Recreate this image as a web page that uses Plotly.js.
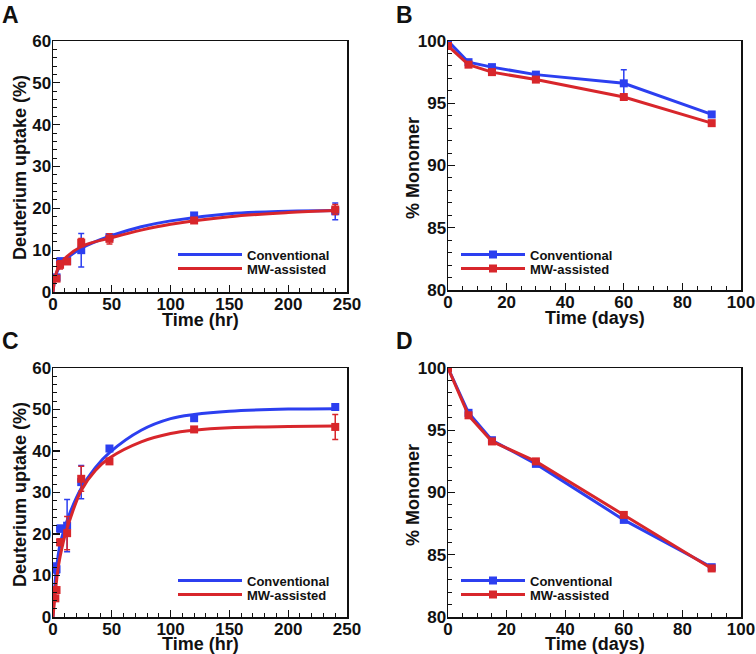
<!DOCTYPE html>
<html>
<head>
<meta charset="utf-8">
<script src="https://cdn.plot.ly/plotly-3.0.1.min.js"></script>
<style>
  html, body { margin: 0; padding: 0; background: #fff; }
  #chart { width: 756px; height: 654px; }
</style>
</head>
<body>
<div id="chart"></div>
<script>
// ---- data ----
const BLUE = "#2c3ff0";
const RED = "#d8262b";

// panel A: deuterium uptake, measured points (hr, %)
const aTime = [3, 6, 12, 24, 48, 120, 240];
const aConv = [3.5, 7.3, 7.4, 10.0, 13.1, 18.3, 19.3];
const aConvErr = [0.5, 0.8, 0.4, 4.0, 0.8, 0.6, 2.0];
const aMw = [3.2, 6.5, 7.3, 11.8, 12.7, 17.1, 19.7];
const aMwErr = [0.6, 1.0, 0.4, 1.0, 1.2, 0.4, 1.2];
// panel A: fitted curves
const aFitTime = [0, 2, 5, 10, 25, 50, 75, 100, 150, 200, 240];
const aFitConv = [0, 3.6, 5.8, 7.6, 10.6, 13.5, 15.6, 17.0, 18.7, 19.3, 19.5];
const aFitMw = [0, 3.8, 6.1, 8.0, 11.0, 13.0, 14.8, 16.2, 18.0, 19.0, 19.5];

// panel C
const cTime = [2, 3, 6, 12, 24, 48, 120, 240];
const cConv = [12.0, 11.5, 21.3, 22.0, 32.5, 40.6, 47.9, 50.6];
const cConvErr = [1.0, 1.0, 0.8, 6.3, 4.0, 0.6, 0.6, 0.6];
const cMw = [4.5, 6.5, 18.0, 20.2, 33.3, 37.5, 45.2, 45.8];
const cMwErr = [0.5, 0.6, 0.8, 4.0, 3.0, 0.5, 0.5, 3.0];
const cFitTime = [0, 2, 4, 6, 10, 15, 24, 36, 48, 75, 100, 120, 150, 200, 240];
const cFitConv = [0, 9, 14, 17.5, 21.5, 25.5, 31.0, 36.0, 39.6, 45.0, 47.8, 48.8, 49.6, 50.1, 50.2];
const cFitMw = [0, 6, 11, 14.5, 19.5, 24.0, 30.5, 35.3, 38.3, 42.2, 44.2, 45.0, 45.6, 45.9, 46.0];

// panel B / D: % monomer vs days
const days = [0, 7, 15, 30, 60, 90];
const bConv = [100, 98.3, 97.9, 97.3, 96.6, 94.1];
const bConvErr = [0, 0, 0, 0, 1.1, 0];
const bMw = [99.6, 98.1, 97.5, 96.9, 95.5, 93.4];
const dConv = [100, 96.4, 94.2, 92.3, 87.8, 84.0];
const dMw = [100, 96.2, 94.1, 92.5, 88.2, 83.9];

const seriesNames = ["Conventional", "MW-assisted"];
const panelLetters = ["A", "B", "C", "D"];
const xTitles = ["Time (hr)", "Time (days)", "Time (hr)", "Time (days)"];
const yTitles = ["Deuterium uptake (%)", "% Monomer", "Deuterium uptake (%)", "% Monomer"];

// ---- traces ----
const traces = [];

function errOpts(arr, col) {
  return { type: "data", array: arr, visible: true, color: col, thickness: 1.5, width: 3 };
}

// each legend entry sits in its own small legend so the rows can be packed tightly
function uptakePanel(xa, ya, n, t, conv, convErr, mw, mwErr, ft, fConv, fMw) {
  traces.push({ x: t, y: conv, xaxis: xa, yaxis: ya, mode: "markers", type: "scatter",
    marker: { symbol: "square", size: 8, color: BLUE }, error_y: errOpts(convErr, BLUE), showlegend: false });
  traces.push({ x: ft, y: fConv, xaxis: xa, yaxis: ya, mode: "lines", type: "scatter", name: seriesNames[0],
    line: { color: BLUE, width: 3, shape: "spline" }, legend: "legend" + (n * 2 + 1) });
  traces.push({ x: t, y: mw, xaxis: xa, yaxis: ya, mode: "markers", type: "scatter",
    marker: { symbol: "square", size: 8, color: RED }, error_y: errOpts(mwErr, RED), showlegend: false });
  traces.push({ x: ft, y: fMw, xaxis: xa, yaxis: ya, mode: "lines", type: "scatter", name: seriesNames[1],
    line: { color: RED, width: 3, shape: "spline" }, legend: "legend" + (n * 2 + 2) });
}

function monomerPanel(xa, ya, n, conv, convErr, mw) {
  traces.push({ x: days, y: conv, xaxis: xa, yaxis: ya, mode: "lines+markers", type: "scatter", name: seriesNames[0],
    line: { color: BLUE, width: 3 }, marker: { symbol: "square", size: 8, color: BLUE },
    error_y: convErr ? errOpts(convErr, BLUE) : undefined, legend: "legend" + (n * 2 + 1) });
  traces.push({ x: days, y: mw, xaxis: xa, yaxis: ya, mode: "lines+markers", type: "scatter", name: seriesNames[1],
    line: { color: RED, width: 3 }, marker: { symbol: "square", size: 8, color: RED },
    legend: "legend" + (n * 2 + 2) });
}

uptakePanel("x", "y", 0, aTime, aConv, aConvErr, aMw, aMwErr, aFitTime, aFitConv, aFitMw);
monomerPanel("x2", "y2", 1, bConv, bConvErr, bMw);
uptakePanel("x3", "y3", 2, cTime, cConv, cConvErr, cMw, cMwErr, cFitTime, cFitConv, cFitMw);
monomerPanel("x4", "y4", 3, dConv, null, dMw);
// plotly calls the first legend "legend", not "legend1"
traces.forEach(tr => { if (tr.legend === "legend1") tr.legend = "legend"; });

// ---- layout ----
const FONT = "Liberation Sans, Arial, Helvetica, sans-serif";
const tickFont = { family: FONT, size: 17, color: "#111", weight: "bold" };
const titleFont = { family: FONT, size: 18, color: "#111", weight: "bold" };

const W = 756, H = 654;
const colA = [53 / W, 347 / W];
const colB = [448 / W, 741 / W];
const py = (top, bot) => [1 - bot / H, 1 - top / H];

function axis(domain, anchor, range, dtick, minor, isX) {
  return {
    domain: domain, anchor: anchor, range: range, dtick: dtick,
    showgrid: false, zeroline: false, showline: true, linecolor: "#111", linewidth: 1.5, mirror: true,
    ticks: "inside", ticklen: 7, tickwidth: 1.3, tickcolor: "#111",
    minor: { ticks: "inside", ticklen: 4, tickwidth: 1, dtick: minor, tickcolor: "#111" },
    ticklabelstandoff: isX ? -4 : -3,
    tickfont: tickFont
  };
}

function legendAt(xpx, ypx) {
  return {
    x: xpx / W, y: 1 - ypx / H, xref: "paper", yref: "paper", xanchor: "left", yanchor: "top",
    bgcolor: "rgba(0,0,0,0)", borderwidth: 0, itemwidth: 64,
    font: { family: FONT, size: 13, color: "#111", weight: "bold" }
  };
}

const annotations = [];
// panel letters
panelLetters.forEach((L, i) => annotations.push({
  text: L, xref: "paper", yref: "paper",
  x: i % 2 === 0 ? 0.0 : 0.521, y: i < 2 ? 1.0 : 0.502,
  xanchor: "left", yanchor: "top", showarrow: false,
  font: { family: FONT, size: 23, color: "#111", weight: "bold" }
}));
// axis titles, placed close to the tick labels as in the figure
const xTitlePos = [[200, 320], [595, 318], [200, 644], [595, 644]];
const yTitlePos = [[20, 168], [413, 168], [20, 495], [413, 495]];
xTitles.forEach((t, i) => annotations.push({
  text: t, xref: "paper", yref: "paper",
  x: xTitlePos[i][0] / W, y: 1 - xTitlePos[i][1] / H,
  xanchor: "center", yanchor: "middle", showarrow: false, font: titleFont
}));
yTitles.forEach((t, i) => annotations.push({
  text: t, xref: "paper", yref: "paper", textangle: -90,
  x: yTitlePos[i][0] / W, y: 1 - yTitlePos[i][1] / H,
  xanchor: "center", yanchor: "middle", showarrow: false, font: titleFont
}));

const layout = {
  width: W, height: H,
  margin: { l: 0, r: 0, t: 0, b: 0 },
  paper_bgcolor: "#fff", plot_bgcolor: "#fff",
  showlegend: true,
  xaxis: axis(colA, "y", [0, 250], 50, 10, true),
  yaxis: axis(py(41, 292), "x", [0, 60], 10, 2, false),
  xaxis2: axis(colB, "y2", [0, 100], 20, 5, true),
  yaxis2: axis(py(41, 290), "x2", [80, 100], 5, 1, false),
  xaxis3: axis(colA, "y3", [0, 250], 50, 10, true),
  yaxis3: axis(py(368, 617), "x3", [0, 60], 10, 2, false),
  xaxis4: axis(colB, "y4", [0, 100], 20, 5, true),
  yaxis4: axis(py(368, 617), "x4", [80, 100], 5, 1, false),
  legend: legendAt(173, 239.5),
  legend2: legendAt(173, 253.5),
  legend3: legendAt(456, 239.5),
  legend4: legendAt(456, 253.5),
  legend5: legendAt(173, 565.5),
  legend6: legendAt(173, 579.5),
  legend7: legendAt(456, 565.5),
  legend8: legendAt(456, 579.5),
  annotations: annotations
};

Plotly.newPlot("chart", traces, layout, { staticPlot: true });
</script>
</body>
</html>
